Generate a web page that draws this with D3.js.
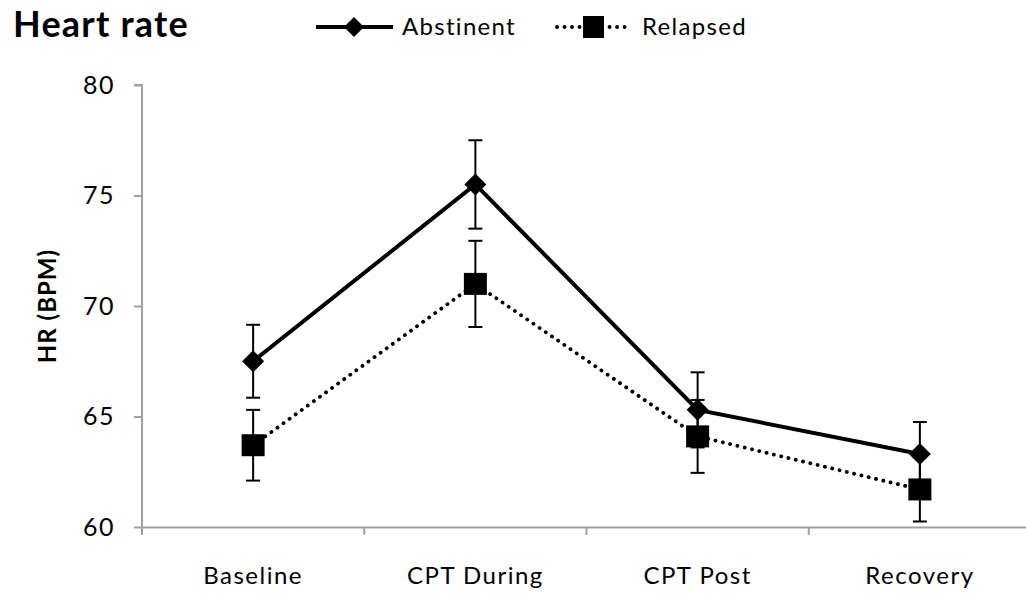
<!DOCTYPE html>
<html>
<head>
<meta charset="utf-8">
<script src="https://cdn.jsdelivr.net/npm/d3@7"></script>
<style>
  body { margin: 0; background: #fff; }
  svg { display: block; }
  text { font-family: Lato, "Open Sans", sans-serif; fill: #000; }
</style>
</head>
<body>
<svg id="chart" width="1026" height="594"></svg>
<script>
const categories = ["Baseline", "CPT During", "CPT Post", "Recovery"];
const abstinent = [67.5, 75.5, 65.3, 63.3];
const abstinentErr = [1.65, 2.0, 1.7, 1.45];
const relapsed = [63.7, 71.0, 64.1, 61.7];
const relapsedErr = [1.6, 1.95, 1.65, 1.45];
const yTicks = [60, 65, 70, 75, 80];

const svg = d3.select("#chart");
const axisColor = "#a0a0a0";
const font = "Lato";

const x = d3.scaleBand()
  .domain(categories)
  .range([142, 1031])
  .padding(0);

const y = d3.scaleLinear()
  .domain([60, 80])
  .range([527, 85]);

// title
svg.append("text")
  .attr("x", 13)
  .attr("y", 37)
  .attr("font-size", 36)
  .attr("font-weight", "bold")
  .attr("letter-spacing", 1.2)
  .text("Heart rate");

// y axis
const yAxis = svg.append("g")
  .attr("transform", "translate(142,0)")
  .call(d3.axisLeft(y).tickValues(yTicks).tickSize(8).tickPadding(19));
yAxis.select(".domain").attr("stroke", axisColor).attr("stroke-width", 2)
  .attr("d", `M0,${y(80)}H-8H0V${y(60)}`);
yAxis.selectAll(".tick line").attr("stroke", axisColor).attr("stroke-width", 2);
yAxis.selectAll(".tick text").attr("font-size", 25).attr("font-family", font)
  .attr("letter-spacing", 1.5).attr("fill", "#000");

// x axis
const xAxis = svg.append("g")
  .attr("transform", `translate(0,${y(60)})`)
  .call(d3.axisBottom(x).tickSize(0).tickPadding(40));
xAxis.select(".domain").attr("stroke", axisColor).attr("stroke-width", 2);
xAxis.selectAll(".tick text").attr("font-size", 24).attr("font-family", font)
  .attr("letter-spacing", 1.5).attr("fill", "#000");
// boundary ticks between categories
xAxis.selectAll(".bound")
  .data(categories)
  .enter().append("line")
  .attr("class", "bound")
  .attr("x1", d => x(d)).attr("x2", d => x(d))
  .attr("y1", 0).attr("y2", 8)
  .attr("stroke", axisColor).attr("stroke-width", 2);

// y axis title
svg.append("text")
  .attr("transform", `translate(56,${(y(60) + y(80)) / 2}) rotate(-90)`)
  .attr("text-anchor", "middle")
  .attr("font-size", 24)
  .attr("font-weight", "bold")
  .attr("letter-spacing", 1)
  .text("HR (BPM)");

const cx = d => x(d) + x.bandwidth() / 2;

const series = [
  { name: "Abstinent", values: abstinent, err: abstinentErr, dash: null, marker: "diamond" },
  { name: "Relapsed", values: relapsed, err: relapsedErr, dash: "0.1 7.4", marker: "square" }
];

const line = d3.line()
  .x((d, i) => cx(categories[i]))
  .y(d => y(d));

const diamondPath = s => `M0,${-s}L${s},0L0,${s}L${-s},0Z`;

series.forEach(s => {
  const g = svg.append("g");
  // error bars
  const eb = g.selectAll(".err")
    .data(s.values)
    .enter().append("g")
    .attr("transform", (d, i) => `translate(${cx(categories[i])},0)`);
  eb.append("line")
    .attr("y1", (d, i) => y(d + s.err[i]))
    .attr("y2", (d, i) => y(d - s.err[i]))
    .attr("stroke", "#000").attr("stroke-width", 2);
  eb.append("line")
    .attr("x1", -7).attr("x2", 7)
    .attr("y1", (d, i) => y(d + s.err[i])).attr("y2", (d, i) => y(d + s.err[i]))
    .attr("stroke", "#000").attr("stroke-width", 2);
  eb.append("line")
    .attr("x1", -7).attr("x2", 7)
    .attr("y1", (d, i) => y(d - s.err[i])).attr("y2", (d, i) => y(d - s.err[i]))
    .attr("stroke", "#000").attr("stroke-width", 2);

  // line
  g.append("path")
    .datum(s.values)
    .attr("d", line)
    .attr("fill", "none")
    .attr("stroke", "#000")
    .attr("stroke-width", s.dash ? 3.8 : 4)
    .attr("stroke-linecap", s.dash ? "round" : "butt")
    .attr("stroke-dasharray", s.dash);

  // markers
  if (s.marker === "diamond") {
    g.selectAll(".mk")
      .data(s.values)
      .enter().append("path")
      .attr("d", diamondPath(11))
      .attr("transform", (d, i) => `translate(${cx(categories[i])},${y(d)})`)
      .attr("fill", "#000");
  } else {
    g.selectAll(".mk")
      .data(s.values)
      .enter().append("rect")
      .attr("x", (d, i) => cx(categories[i]) - 11.5)
      .attr("y", d => y(d) - 11)
      .attr("width", 23).attr("height", 22)
      .attr("fill", "#000");
  }
});

// legend
const legend = svg.append("g");
legend.append("line")
  .attr("x1", 316).attr("x2", 393).attr("y1", 27).attr("y2", 27)
  .attr("stroke", "#000").attr("stroke-width", 4);
legend.append("path")
  .attr("d", diamondPath(10))
  .attr("transform", "translate(354,27)");
legend.append("text")
  .attr("x", 402).attr("y", 35)
  .attr("font-size", 24)
  .attr("letter-spacing", 1.3)
  .text("Abstinent");
legend.append("line")
  .attr("x1", 557).attr("x2", 631).attr("y1", 27).attr("y2", 27)
  .attr("stroke", "#000").attr("stroke-width", 3.8)
  .attr("stroke-linecap", "round")
  .attr("stroke-dasharray", "0.1 7.4");
legend.append("rect")
  .attr("x", 583).attr("y", 16).attr("width", 21).attr("height", 22);
legend.append("text")
  .attr("x", 642).attr("y", 35)
  .attr("font-size", 24)
  .attr("letter-spacing", 1.3)
  .text("Relapsed");
</script>
</body>
</html>
